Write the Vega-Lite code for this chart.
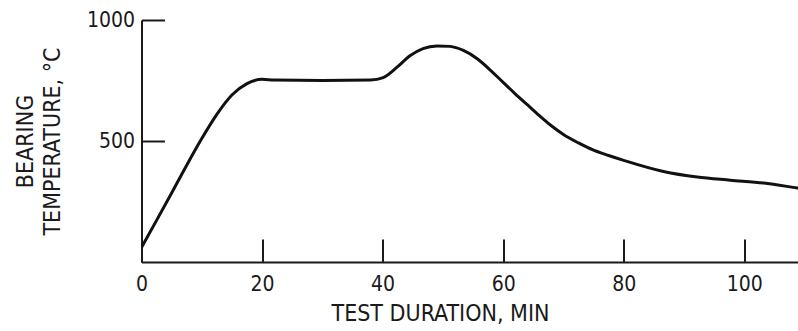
{
  "$schema": "https://vega.github.io/schema/vega-lite/v6.json",
  "width": 657,
  "height": 242,
  "autosize": {"type": "none"},
  "padding": {"left": 141.5, "top": 20, "right": 0, "bottom": 69},
  "background": "white",
  "config": {
    "view": {"stroke": null},
    "font": "DejaVu Sans Condensed",
    "axis": {
      "labelFont": "DejaVu Sans Condensed",
      "titleFont": "DejaVu Sans Condensed",
      "labelColor": "#1a1a1a",
      "titleColor": "#1a1a1a",
      "domainColor": "#1a1a1a",
      "tickColor": "#1a1a1a",
      "domainWidth": 2,
      "tickWidth": 2,
      "grid": false,
      "labelFontSize": 21,
      "titleFontSize": 23,
      "titleFontWeight": "normal"
    }
  },
  "data": {
    "values": [
      {"t": 0, "temp": 60},
      {"t": 2.5, "temp": 172},
      {"t": 5, "temp": 285},
      {"t": 7.5, "temp": 400},
      {"t": 10, "temp": 510},
      {"t": 12.5, "temp": 610},
      {"t": 15, "temp": 690},
      {"t": 17.5, "temp": 737},
      {"t": 20, "temp": 755},
      {"t": 22, "temp": 752},
      {"t": 30, "temp": 750},
      {"t": 38, "temp": 752},
      {"t": 40.1, "temp": 762},
      {"t": 42.4, "temp": 805},
      {"t": 44.6, "temp": 853},
      {"t": 46.7, "temp": 882},
      {"t": 49, "temp": 893},
      {"t": 51.2, "temp": 891},
      {"t": 53.4, "temp": 874},
      {"t": 55.7, "temp": 840},
      {"t": 58, "temp": 790},
      {"t": 60, "temp": 742},
      {"t": 62, "temp": 695},
      {"t": 64, "temp": 650},
      {"t": 66, "temp": 605},
      {"t": 68, "temp": 563},
      {"t": 70, "temp": 527},
      {"t": 72.5, "temp": 492},
      {"t": 75, "temp": 462},
      {"t": 77.5, "temp": 440},
      {"t": 80, "temp": 420},
      {"t": 86.6, "temp": 374},
      {"t": 92.2, "temp": 351},
      {"t": 97.7, "temp": 338},
      {"t": 103.2, "temp": 326},
      {"t": 108.8, "temp": 306},
      {"t": 111, "temp": 298}
    ]
  },
  "mark": {"type": "line", "color": "#111111", "strokeWidth": 3, "interpolate": "monotone", "clip": true},
  "encoding": {
    "x": {
      "field": "t",
      "type": "quantitative",
      "scale": {"domain": [0, 109], "nice": false, "zero": false},
      "axis": {
        "values": [0, 20, 40, 60, 80, 100],
        "format": "d",
        "tickSize": -23,
        "labelPadding": 34,
        "title": "TEST DURATION, MIN",
        "titleX": 298.5,
        "titleY": 40,
        "labelFlush": false,
        "labelOverlap": false
      }
    },
    "y": {
      "field": "temp",
      "type": "quantitative",
      "scale": {"domain": [0, 1000], "nice": false},
      "axis": {
        "values": [500, 1000],
        "format": "d",
        "tickSize": -23,
        "labelPadding": 30,
        "title": ["BEARING", "TEMPERATURE, °C"],
        "titleLineHeight": 27,
        "titlePadding": 22,
        "labelFlush": false,
        "labelOverlap": false
      }
    }
  }
}
